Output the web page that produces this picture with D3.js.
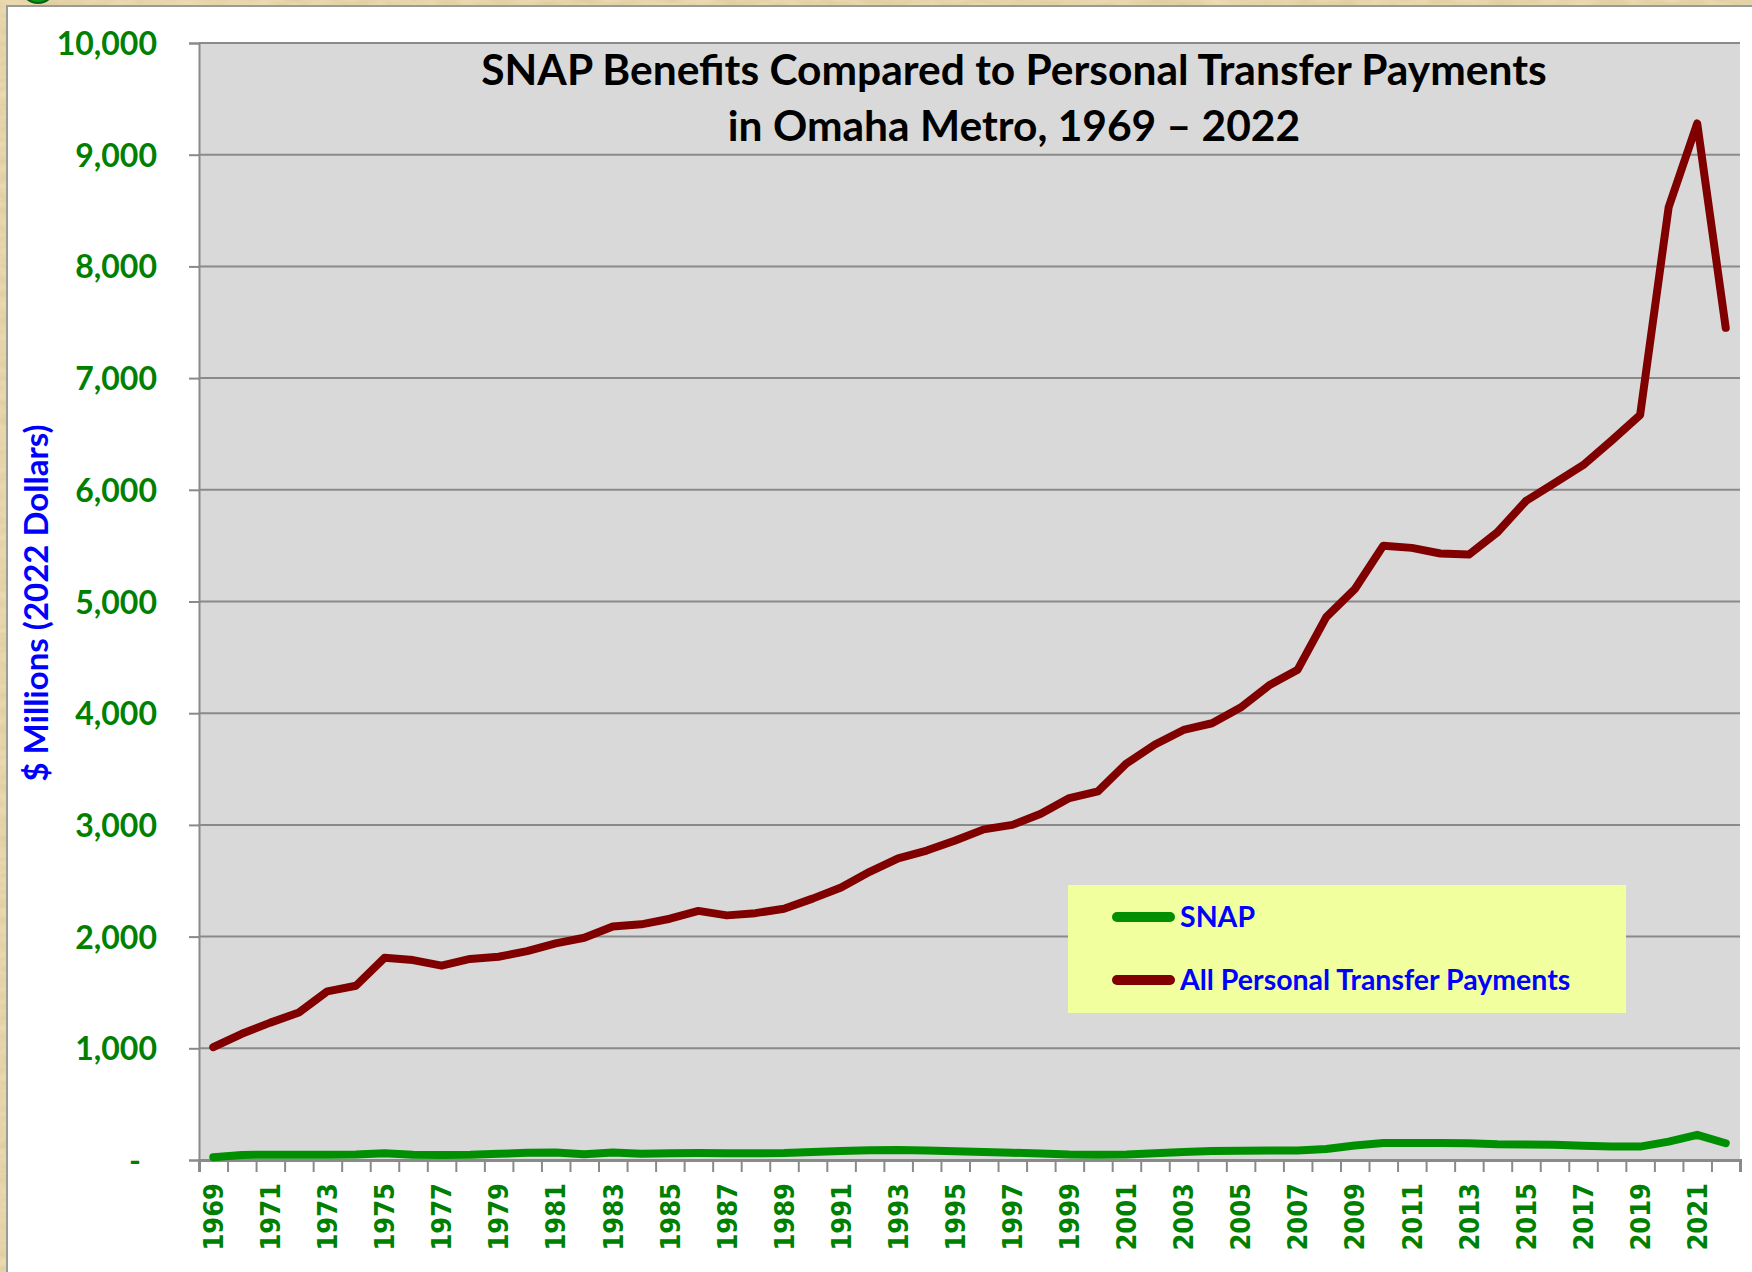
<!DOCTYPE html>
<html>
  <head>
    <meta charset="utf-8">
    <title>SNAP vs Personal Transfer Payments</title>
    <style>
      body { margin: 0; background: #e8d6a9; }
      svg { display: block; }
      .ytick text { font-family: Lato, "Open Sans", sans-serif; font-weight: 700; font-size: 32px; fill: #008000; }
      .xlab text { font-family: "DejaVu Sans Condensed", "DejaVu Sans", sans-serif; font-stretch: condensed; font-weight: 700; font-size: 27px; fill: #008000; }
      .title { font-family: Lato, "Open Sans", sans-serif; font-weight: 700; font-size: 42.5px; fill: #000; }
      .ytitle { font-family: Lato, "Open Sans", sans-serif; font-weight: 700; font-size: 33px; fill: #0000ff; }
      .legend-text { font-family: Lato, "Open Sans", sans-serif; font-weight: 700; font-size: 28.5px; fill: #0000ff; }
    </style>
  </head>
  <body>
    <script src="https://cdn.jsdelivr.net/npm/d3@7"></script>
    <script>

        // data, $ millions (2022 dollars)
        var years = d3.range(1969, 2023);

        var snap = [25, 45, 48, 48, 48, 50, 60, 48, 45, 46,
                    55, 65, 68, 52, 68, 55, 60, 62, 60, 60,
                    62, 72, 80, 88, 90, 85, 78, 72, 65, 58,
                    50, 48, 50, 60, 72, 80, 83, 85, 85, 98,
                    130, 152, 152, 152, 150, 140, 138, 136, 128, 120,
                    120, 165, 225, 150];

        var transfers = [1010, 1130, 1230, 1320, 1510, 1560, 1810, 1790, 1740, 1800,
                         1820, 1870, 1940, 1990, 2090, 2110, 2160, 2230, 2190, 2210,
                         2250, 2340, 2440, 2580, 2700, 2770, 2860, 2960, 3000, 3100,
                         3240, 3300, 3550, 3720, 3850, 3910, 4050, 4250, 4390, 4860,
                         5110, 5500, 5480, 5430, 5420, 5620, 5900, 6060, 6220, 6440,
                         6670, 8530, 9280, 7450];

        var yTicks = d3.range(0, 10001, 1000);
        var seriesNames = ["SNAP", "All Personal Transfer Payments"];
        var seriesColors = ["#008f00", "#800000"];

        var W = 1752, H = 1272;
        var margin = {top: 43, right: 12, bottom: 112, left: 199},
            width = W - margin.left - margin.right,
            height = H - margin.top - margin.bottom;

        var svg = d3.select("body").append("svg")
            .attr("width", W)
            .attr("height", H);

        // parchment-ish backdrop with a little grain
        var defs = svg.append("defs");
        var f = defs.append("filter").attr("id", "grain")
            .attr("x", 0).attr("y", 0).attr("width", "100%").attr("height", "100%");
        f.append("feTurbulence").attr("type", "fractalNoise")
            .attr("baseFrequency", "0.035 0.12").attr("numOctaves", 3).attr("seed", 4);
        f.append("feColorMatrix").attr("type", "matrix")
            .attr("values", "0 0 0 0 0.55  0 0 0 0 0.42  0 0 0 0 0.2  0 0 0 0.45 -0.05");

        svg.append("rect").attr("width", W).attr("height", H).attr("fill", "#eddcb3");
        svg.append("rect").attr("width", W).attr("height", H).attr("filter", "url(#grain)");

        // little green bullet peeking in at the top-left
        svg.append("circle")
            .attr("cx", 38).attr("cy", -14).attr("r", 17)
            .attr("fill", "#0a9a1a").attr("stroke", "#0b5d12").attr("stroke-width", 2);

        // white chart panel
        svg.append("rect")
            .attr("x", 7).attr("y", 6)
            .attr("width", W).attr("height", H)
            .attr("fill", "#fff")
            .attr("stroke", "#9a9a9a")
            .attr("stroke-width", 2);

        var g = svg.append("g")
            .attr("transform", "translate(" + margin.left + "," + margin.top + ")");

        // scales
        var x = d3.scaleBand()
            .domain(years)
            .range([0, width])
            .padding(0);

        var xEdge = d3.scaleLinear()
            .domain([years[0], years[years.length - 1] + 1])
            .range([0, width]);

        var y = d3.scaleLinear()
            .domain([0, 10000])
            .range([height, 0]);

        // plot area
        g.append("rect")
            .attr("width", width)
            .attr("height", height)
            .attr("fill", "#d9d9d9");

        // gridlines
        g.selectAll(".grid")
            .data(yTicks.slice(1))
            .enter().append("line")
            .attr("class", "grid")
            .attr("x1", 0).attr("x2", width)
            .attr("y1", function(d) { return y(d); })
            .attr("y2", function(d) { return y(d); })
            .attr("stroke", "#8a8a8a")
            .attr("stroke-width", 2);

        // y axis
        var yAxis = g.append("g")
            .attr("class", "ytick")
            .call(d3.axisLeft(y)
                .tickValues(yTicks)
                .tickSize(10)
                .tickPadding(32)
                .tickFormat(function(d) { return d === 0 ? "-" : d3.format(",")(d); }));
        yAxis.select(".domain").attr("stroke", "#8a8a8a").attr("stroke-width", 2);
        yAxis.selectAll(".tick line").attr("stroke", "#8a8a8a").attr("stroke-width", 2);
        yAxis.selectAll(".tick text")
            .attr("dy", "0.36em")
            .filter(function(d) { return d === 0; })
            .attr("dx", -16);

        // x axis: tick marks on band edges
        var xTicks = g.append("g")
            .attr("transform", "translate(0," + height + ")")
            .call(d3.axisBottom(xEdge)
                .tickValues(d3.range(years[0], years[years.length - 1] + 2))
                .tickSize(12)
                .tickFormat(""));
        xTicks.select(".domain").attr("stroke", "#8a8a8a").attr("stroke-width", 3);
        xTicks.selectAll(".tick line").attr("stroke", "#8a8a8a").attr("stroke-width", 2);

        // x axis: labels on every other year
        var xLabels = g.append("g")
            .attr("class", "xlab")
            .attr("transform", "translate(0," + height + ")")
            .call(d3.axisBottom(x)
                .tickValues(years.filter(function(d) { return (d - years[0]) % 2 === 0; }))
                .tickSize(0));
        xLabels.select(".domain").remove();
        xLabels.selectAll(".tick text")
            .attr("transform", "rotate(-90)")
            .attr("x", -23)
            .attr("y", 0)
            .attr("dy", "0.36em")
            .style("text-anchor", "end");

        // lines
        var line = d3.line()
            .x(function(d, i) { return x(years[i]) + x.bandwidth() / 2; })
            .y(function(d) { return y(d); });

        [snap, transfers].forEach(function(series, k) {
            g.append("path")
                .datum(series)
                .attr("fill", "none")
                .attr("stroke", seriesColors[k])
                .attr("stroke-width", 8)
                .attr("stroke-linejoin", "round")
                .attr("stroke-linecap", "round")
                .attr("d", line);
        });

        // title
        svg.append("text")
            .attr("class", "title")
            .attr("x", 1014).attr("y", 85)
            .attr("text-anchor", "middle")
            .text("SNAP Benefits Compared to Personal Transfer Payments");
        svg.append("text")
            .attr("class", "title")
            .attr("x", 1014).attr("y", 141)
            .attr("text-anchor", "middle")
            .text("in Omaha Metro, 1969 \u2013 2022");

        // y axis title
        svg.append("text")
            .attr("class", "ytitle")
            .attr("transform", "translate(36,603) rotate(-90)")
            .attr("text-anchor", "middle")
            .attr("dy", "0.36em")
            .text("$ Millions (2022 Dollars)");

        // legend
        var legend = svg.append("g").attr("transform", "translate(1068,885)");
        legend.append("rect")
            .attr("width", 558).attr("height", 128)
            .attr("fill", "#f1ff9f");
        seriesNames.forEach(function(name, k) {
            var ly = 32 + k * 63;
            legend.append("line")
                .attr("x1", 49).attr("x2", 102)
                .attr("y1", ly).attr("y2", ly)
                .attr("stroke", seriesColors[k])
                .attr("stroke-width", 10)
                .attr("stroke-linecap", "round");
            legend.append("text")
                .attr("class", "legend-text")
                .attr("x", 112).attr("y", ly)
                .attr("dy", "0.36em")
                .text(name);
        });

    </script>
  </body>
</html>
